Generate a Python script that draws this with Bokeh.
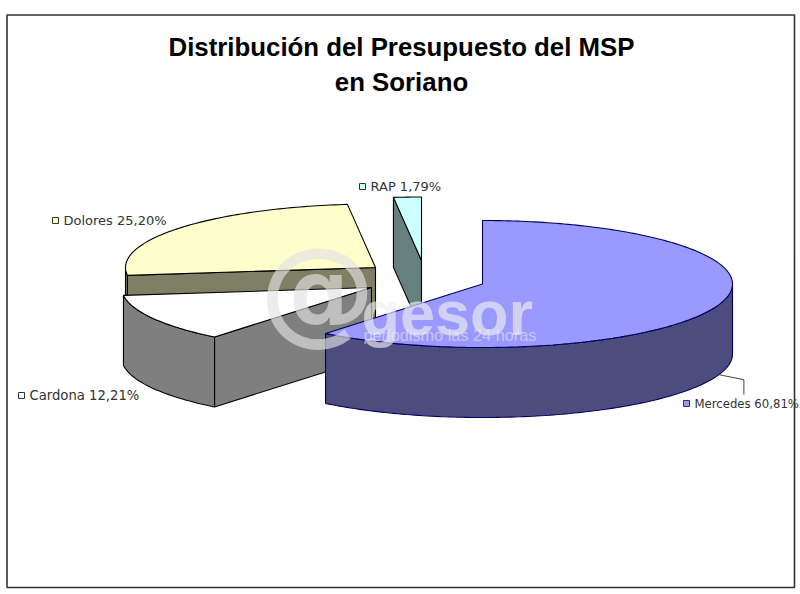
import math
from bokeh.plotting import figure
from bokeh.models import Range1d
from bokeh.core.properties import value
from bokeh.embed import file_html
from bokeh.resources import INLINE

# ---- chart data ----
TITLE_LINES = ["Distribución del Presupuesto del MSP", "en Soriano"]
categories = ["Mercedes", "Cardona", "Dolores", "RAP"]
percent_labels = ["60,81%", "12,21%", "25,20%", "1,79%"]
shares = [60.81, 12.21, 25.20, 1.79]
top_colors = ["#9999FF", "#FFFFFF", "#FFFFCC", "#CCFFFF"]
side_colors = ["#4C4C7F", "#7F7F7F", "#7F7F66", "#667F7F"]
edge_colors = ["#000060", "#000000", "#000000", "#000000"]
watermark_mark = "@"
watermark_name = "gesor"
watermark_tag = "periodismo las 24 horas"

# ---- layout of the exploded 3-D pie, in page pixels ----
RX, RY, DEPTH = 250, 63.5, 70
apex = {"Mercedes": (482, 283.5), "Cardona": (371, 287), "Dolores": (375, 267), "RAP": (421, 260)}
label_pos = {"Mercedes": (694, 403), "Cardona": (29, 395), "Dolores": (63, 220), "RAP": (370, 186)}
label_size = {"Mercedes": "11.7px", "Cardona": "13.2px", "Dolores": "13px", "RAP": "13px"}

W, H = 800, 594
p = figure(width=W, height=H, output_backend="svg", toolbar_location=None,
           x_range=Range1d(0, W), y_range=Range1d(H, 0), min_border=0,
           margin=(0, 0, 0, 0))
p.axis.visible = False
p.grid.visible = False
p.outline_line_color = None

# outer chart frame
p.patch([6.5, 794, 794, 6.5], [14.5, 14.5, 587, 587], fill_color="white", line_color="#333333", line_width=1.6)


def point(name, deg, drop=0):
    cx, cy = apex[name]
    a = math.radians(deg)
    return cx + RX * math.sin(a), cy - RY * math.cos(a) + drop


def arc(name, a0, a1, drop=0):
    n = max(2, int(abs(a1 - a0)) + 1)
    return [point(name, a0 + (a1 - a0) * i / (n - 1), drop) for i in range(n)]


def poly(pts, fill, line):
    p.patch([q[0] for q in pts], [q[1] for q in pts], fill_color=fill, line_color=line, line_width=1.1)


# angular extents, clockwise from 12 o'clock, from the shares
total = sum(shares)
extent, run = {}, 0.0
for name, s in zip(categories, shares):
    extent[name] = (run * 360 / total, (run + s) * 360 / total)
    run += s

# painter's order: back to front
for name in ["RAP", "Dolores", "Cardona", "Mercedes"]:
    i = categories.index(name)
    a0, a1 = extent[name]
    side, top, edge = side_colors[i], top_colors[i], edge_colors[i]
    cx, cy = apex[name]
    # radial wall facing the viewer
    if name in ("RAP", "Dolores", "Cardona"):
        e = point(name, a0)
        poly([e, (cx, cy), (cx, cy + DEPTH), (e[0], e[1] + DEPTH)], side, edge)
    # outer rim (only the front half is visible)
    lo, hi = max(a0, 90), min(a1, 270)
    if hi > lo:
        poly(arc(name, lo, hi) + arc(name, hi, lo, DEPTH), side, edge)
    # top face
    poly([(cx, cy)] + arc(name, a0, a1), top, edge)

# leader line for Mercedes
mx, my = point("Mercedes", 109, DEPTH)
p.line([mx, mx + 25, mx + 25], [my, my + 5, my + 20], line_color="#444444", line_width=1)

# data labels with their swatches
for i, name in enumerate(categories):
    x, y = label_pos[name]
    p.scatter([x - 8], [y], marker="square", size=6, fill_color=top_colors[i], line_color="#333333", line_width=1)
    p.text([x], [y], text=[f"{name} {percent_labels[i]}"], text_font=value("DejaVu Sans"),
           text_font_size=label_size[name], text_color="#333333", text_baseline="middle", text_align="left")

# title
for line, y in zip(TITLE_LINES, [46, 81]):
    p.text([401], [y], text=[line], text_font=value("Liberation Sans"), text_font_style="bold",
           text_font_size="25.8px", text_color="#000000", text_align="center", text_baseline="middle")

# watermark
p.text([317], [289], text=[watermark_mark], text_font=value("DejaVu Sans"), text_font_style="bold",
       text_font_size="116px", text_color="#e2e2e2", text_alpha=0.65, text_align="center", text_baseline="middle")
p.text([361], [312], text=[watermark_name], text_font=value("Liberation Sans"), text_font_style="bold",
       text_font_size="63px", text_color="#f0f0f0", text_alpha=0.65, text_align="left", text_baseline="alphabetic")
p.text([363], [334], text=[watermark_tag], text_font=value("Liberation Sans"), text_font_size="16.3px",
       text_color="#f0f0f0", text_alpha=0.55, text_align="left", text_baseline="middle")

open("out.html", "w").write(file_html(p, INLINE))
